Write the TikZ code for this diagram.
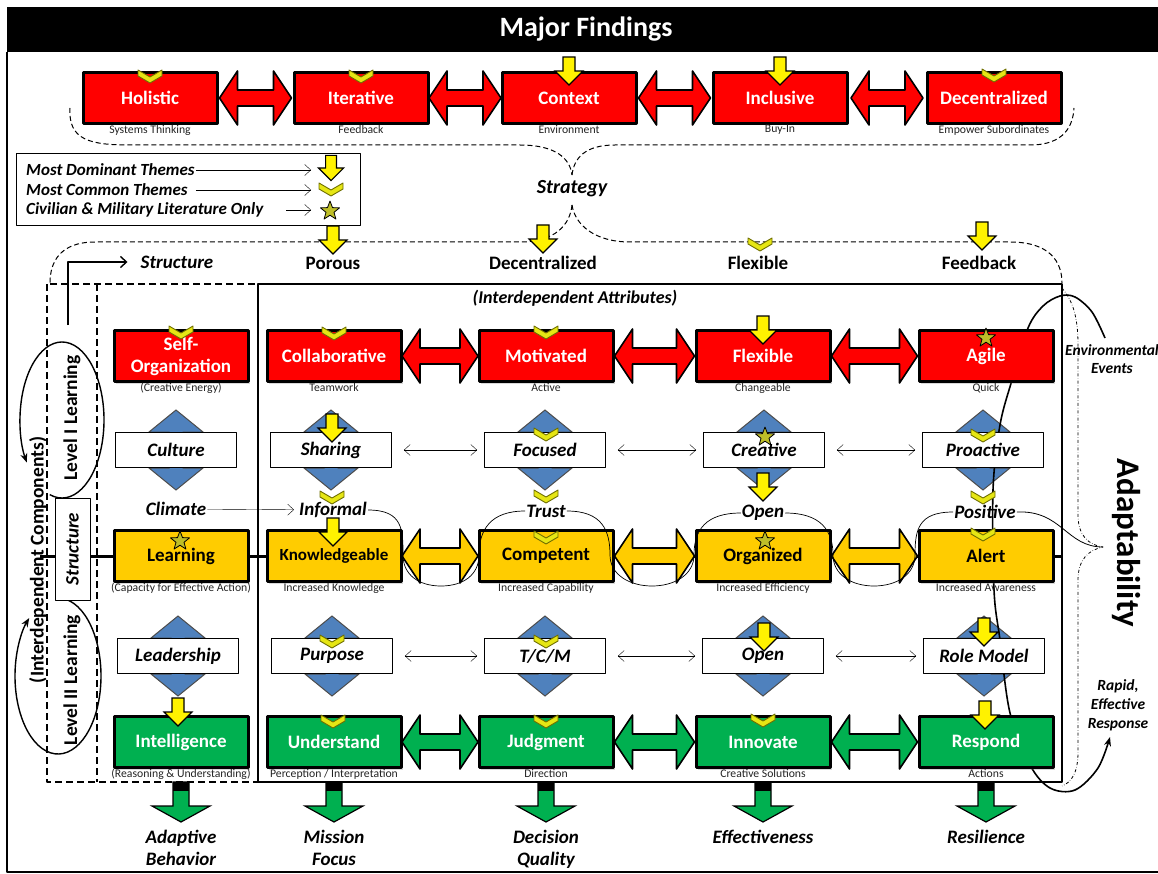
\documentclass[tikz,border=0pt]{standalone}
\usepackage{fontspec}
\setmainfont{Carlito}
\usetikzlibrary{positioning,calc,shadows,backgrounds,arrows.meta}
\definecolor{fRed}{RGB}{255,0,0}
\definecolor{fGold}{RGB}{255,204,0}
\definecolor{fGreen}{RGB}{0,176,80}
\definecolor{fBlue}{RGB}{79,129,189}
\definecolor{chevFill}{RGB}{230,230,20}
\definecolor{chevEdge}{RGB}{110,110,0}
\definecolor{starFill}{RGB}{190,190,40}
\definecolor{subGray}{RGB}{35,35,35}
\tikzset{
  pics/dnarrow/.style={code={\path[draw=black, fill=yellow, line width=1.2pt, line join=miter]
    (-6,-14) -- (6,-14) -- (6,0) -- (14,0) -- (0,14) -- (-14,0) -- (-6,0) -- cycle;}},
  pics/chev/.style={code={\path[draw=chevEdge, fill=chevFill, line width=0.9pt]
    (-12,-6) -- (0,1) -- (12,-6) -- (12,0) -- (0,7) -- (-12,0) -- cycle;}},
  pics/starmk/.style={code={\path[draw=black, fill=starFill, line width=0.8pt]
    (0,-10) -- (2.5,-3.4) -- (9.5,-3.1) -- (4,1.3) -- (5.9,8.1) -- (0,4.2) -- (-5.9,8.1)
    -- (-4,1.3) -- (-9.5,-3.1) -- (-2.5,-3.4) -- cycle;}},
  pics/updn/.style={code={\path[draw=black!70, fill=fBlue, line width=1pt, line join=miter]
    (0,-#1) -- (27,-18) -- (7,-18) -- (7,18) -- (27,18) -- (0,#1) -- (-27,18) -- (-7,18)
    -- (-7,-18) -- (-27,-18) -- cycle;}},
  pics/dbl/.style={code={\path[pic actions]
    (-#1,0) -- (18-#1,-27) -- (18-#1,-8) -- (#1-18,-8) -- (#1-18,-27) -- (#1,0)
    -- (#1-18,27) -- (#1-18,8) -- (18-#1,8) -- (18-#1,27) -- cycle;}},
  pics/outarr/.style={code={\path[draw=black, fill=fGreen, line width=1.2pt, line join=miter]
    (-8,0) -- (8,0) -- (8,24) -- (29,24) -- (0,40) -- (-29,24) -- (-8,24) -- cycle;
    \fill (-8,0) rectangle (8,9);}}
}
% wavy link between the attribute labels
\newcommand\lobecurve[4]{%
  \draw[line width=0.7pt] (#1.east) .. controls +(35,0) and +(0,-25) .. (#3-#4,555)
    .. controls +(0,20) and +(-22,0) .. (#3,586)
    .. controls +(22,0) and +(0,20) .. (#3+#4,555)
    .. controls +(0,-25) and +(-35,0) .. (#2.west);}

\begin{document}
\begin{tikzpicture}[x=1pt, y=-1pt, line join=round, >={Straight Barb[length=6pt,width=11pt]},
  box/.style={draw=black, line width=3pt, minimum width=134pt, minimum height=51pt, inner sep=1pt,
    align=center, font=\fontsize{19}{22}\selectfont\bfseries,
    drop shadow={opacity=0.3, shadow xshift=2pt, shadow yshift=-2pt}},
  redbox/.style={box, fill=fRed, text=white},
  goldbox/.style={box, fill=fGold, text=black},
  greenbox/.style={box, fill=fGreen, text=white},
  wbox/.style={draw=black, fill=white, line width=0.8pt, minimum width=121pt, minimum height=35pt,
    font=\fontsize{19}{22}\selectfont\bfseries\itshape},
  sub/.style={font=\fontsize{11.7}{13}\selectfont, text=subGray, inner sep=0pt},
  lbl/.style={font=\fontsize{19}{22}\selectfont\bfseries\itshape, align=center, inner sep=1pt},
  hdr/.style={font=\fontsize{19}{22}\selectfont\bfseries, inner sep=1pt},
  leg/.style={font=\fontsize{17}{18}\selectfont\bfseries\itshape, inner sep=1pt},
  side/.style={font=\fontsize{19.5}{22}\selectfont\bfseries, rotate=90, inner sep=1pt},
  brace/.style={line width=1pt, dash pattern=on 5pt off 3pt}]
\useasboundingbox (0,0) rectangle (1158,874);
% frame and title
\fill (7,7) rectangle (1158,52);
\draw[line width=1.2pt] (7,52) -- (7,872) -- (1158,872);
\node[text=white, font=\fontsize{28}{30}\selectfont\bfseries] (title) at (586,29) {Major Findings};

% braces round the findings and the structure
\draw[brace] (70,108) .. controls (68,140) and (90,145) .. (130,145) -- (520,145)
  .. controls (555,145) and (570,158) .. (572,175);
\draw[brace] (572,175) .. controls (574,158) and (585,145) .. (615,145) -- (1030,145)
  .. controls (1065,145) and (1073,125) .. (1074,108);
\draw[brace] (572,205) .. controls (570,225) and (555,242) .. (520,242) -- (95,242)
  .. controls (60,242) and (50,262) .. (50,283);
\draw[brace] (572,205) .. controls (575,225) and (595,242) .. (630,242) -- (1010,242)
  .. controls (1050,242) and (1062,262) .. (1062,283);
\draw[dash dot, line width=0.8pt] (1062,288) .. controls (1072,300) and (1078,315) .. (1078,345) -- (1078,515)
  .. controls (1078,535) and (1088,545) .. (1103,547) .. controls (1088,550) and (1078,560) .. (1078,580)
  -- (1078,752) .. controls (1078,772) and (1072,782) .. (1062,786);

% containers
\draw[line width=3pt] (40,556) -- (1062,556);
\draw[line width=2.2pt] (258,284) rectangle (1062,782);
\draw[line width=1.6pt, dash pattern=on 7pt off 4pt] (47,284) rectangle (258,782) (97,284) -- (97,782);
\draw[line width=1.6pt, -{Stealth[length=9pt,width=7pt]}] plot[smooth, tension=0.55] coordinates {(1105,338) (1092,312)
  (1075,297) (1060,296) (1043,306) (1028,328) (1012,380) (1000,425) (993,490) (994,590) (1000,640)
  (1010,713) (1030,765) (1050,788) (1075,790) (1098,768) (1110,737)};

% major findings
\foreach \n/\x/\t/\s in {holi/150/Holistic/Systems Thinking, iter/361/Iterative/Feedback,
    ctx/569/Context/Environment, incl/780/Inclusive/Buy-In, dcz/994/Decentralized/Empower Subordinates}{
  \node[redbox] (\n) at (\x,98) {\t};
  \node[sub, below=0pt of \n] (\n-s) {\s};
}
\foreach \a/\b in {holi/iter, iter/ctx, ctx/incl, incl/dcz}
  \pic[fill=fRed, draw=black, line width=1.6pt] at ($(\a.east)!0.5!(\b.west)$) {dbl=36};

\node[lbl, font=\fontsize{20}{22}\selectfont\bfseries\itshape] (strat) at (572,189) {Strategy};

% legend
\draw[line width=0.8pt] (16,153) rectangle (360,225);
\node[leg, anchor=west] (lg1) at (25,170) {Most Dominant Themes};
\node[leg, anchor=west] (lg2) at (25,190) {Most Common Themes};
\node[leg, anchor=west] (lg3) at (25,210) {Civilian \& Military Literature Only};
\coordinate (lgend) at (311,0);
\draw[->] (lg1.east) -- (lg1.east -| lgend);
\draw[->] ([xshift=7pt]lg2.east) -- (lg2.east -| lgend);
\draw[->] ([xshift=22pt]lg3.east) -- (lg3.east -| lgend);
\pic[scale=0.9] at (331,168) {dnarrow};
\pic at (331,189) {chev};
\pic at (330,211) {starmk};

% structure row
\node[lbl] (strc) at (177,262) {Structure};
\coordinate (lvl) at (68,325);
\draw[->, line width=1.4pt] (lvl) |- ([xshift=-12pt]strc.west);
\foreach \n/\x/\t in {por/333/Porous, hdec/543/Decentralized, hflx/758/Flexible, hfdb/979/Feedback}
  \node[hdr] (\n) at (\x,263) {\t};
\node[lbl, font=\fontsize{18}{20}\selectfont\bfseries\itshape] (attr) at (575,298) {(Interdependent Attributes)};

% left side
\draw[line width=1.4pt, -{Stealth[length=9pt,width=7pt]}] (62,420) ++(107:42 and 78)
  arc[start angle=467, end angle=147, x radius=42, y radius=78];
\draw[line width=1.4pt, -{Stealth[length=9pt,width=7pt]}] (58,676) ++(-80:43 and 78)
  arc[start angle=-80, end angle=228, x radius=43, y radius=78];
\node[side] (lvl1) at (72,418) {Level I Learning};
\node[side] (lvl2) at (72,680) {Level II Learning};
\node[side] (icomp) at (38,560) {(Interdependent Components)};
\node[draw, fill=white, line width=0.8pt, rotate=90, minimum width=102pt, minimum height=35pt,
  font=\fontsize{19}{20}\selectfont\bfseries\itshape] (strbox) at (72.5,549) {Structure};

% attribute rows
\node[redbox] (selforg) at (181,356) {Self-\\Organization};
\node[sub, below=0pt of selforg] (selforg-s) {(Creative Energy)};
\foreach \n/\x/\t/\s in {collab/334/Collaborative/Teamwork, motiv/546/Motivated/Active,
    flex/763/Flexible/Changeable, agile/986/Agile/Quick}{
  \node[redbox] (\n) at (\x,356) {\t};
  \node[sub, below=0pt of \n] (\n-s) {\s};
}
\foreach \n/\x/\t/\s in {learn/181/Learning/(Capacity for Effective Action),
    know/334/{\fontsize{17}{19}\selectfont Knowledgeable}/Increased Knowledge,
    comp/546/Competent/Increased Capability, org/763/Organized/Increased Efficiency,
    alert/986/Alert/Increased Awareness}{
  \node[goldbox] (\n) at (\x,556) {\t};
  \node[sub, below=0pt of \n] (\n-s) {\s};
}
\foreach \n/\x/\t/\s in {intel/181/Intelligence/(Reasoning \& Understanding),
    under/334/Understand/{Perception / Interpretation}, judg/546/Judgment/Direction,
    innov/763/Innovate/Creative Solutions, resp/986/Respond/Actions}{
  \node[greenbox] (\n) at (\x,742) {\t};
  \node[sub, below=0pt of \n] (\n-s) {\s};
}
\foreach \n/\x/\t in {cult/176/Culture, shar/331/Sharing, focu/545/Focused, crea/764/Creative, proa/983/Proactive}
  \node[wbox] (\n) at (\x,450) {\t};
\foreach \n/\x/\t in {lead/178/Leadership, purp/332/Purpose, tcm/545/{T/C/M}, wopen/763/Open, role/984/Role Model}
  \node[wbox] (\n) at (\x,656) {\t};
\begin{scope}[on background layer]
  \foreach \n in {cult, shar, focu, crea, proa, lead, purp, tcm, wopen, role}
    \pic at (\n) {updn=40};
\end{scope}
\foreach \n/\x/\y/\t in {climate/176/509/Climate, informal/333/510/Informal, trust/546/511/Trust,
    lbopen/763/513/Open, positive/985/512/Positive}
  \node[lbl] (\n) at (\x,\y) {\t};

% links between attributes
\foreach \a/\b/\l in {collab/motiv/38, motiv/flex/40, flex/agile/43}
  \pic[fill=fRed, draw=black, line width=1.6pt] at ($(\a.east)!0.5!(\b.west)$) {dbl=\l};
\foreach \a/\b/\l in {know/comp/38, comp/org/40, org/alert/43}
  \pic[fill=fGold, draw=black, line width=1.6pt] at ($(\a.east)!0.5!(\b.west)$) {dbl=\l};
\foreach \a/\b/\l in {under/judg/38, judg/innov/40, innov/resp/43}
  \pic[fill=fGreen, draw=black, line width=1.6pt] at ($(\a.east)!0.5!(\b.west)$) {dbl=\l};
\foreach \a/\b in {shar/focu, focu/crea, crea/proa, purp/tcm, tcm/wopen, wopen/role}
  \draw[<->, shorten <=12pt, shorten >=7pt] (\a) -- (\b);
\draw[->, shorten >=4pt] (climate) -- (informal);

% theme markers
\foreach \x/\y in {150/76, 361/76, 994/75, 760/244, 181/332, 334/333, 546/332, 546/434, 983/435,
    332/497, 546/496, 983/497, 546/537, 983/534, 332/641, 546/641, 333/721, 546/721, 763/720}
  \pic at (\x,\y) {chev};
\foreach \x/\y in {569/71, 780/71, 333/240, 543/239, 982/236, 763/330, 332/428, 763/487, 333/532,
    764/637, 984/632, 178/712, 985/715}
  \pic at (\x,\y) {dnarrow};
\foreach \x/\y in {986/338, 765/437, 180/541, 765/541}
  \pic at (\x,\y) {starmk};

\lobecurve{informal}{trust}{441}{38}
\lobecurve{trust}{lbopen}{652}{42}
\lobecurve{lbopen}{positive}{874}{41}
\draw[line width=0.8pt] (positive.east) .. controls (1062,510) and (1066,547) .. (1103,547);

% outcomes
\foreach \n/\t in {intel/{Adaptive\\Behavior}, under/{Mission\\Focus}, judg/{Decision\\Quality},
    innov/Effectiveness, resp/Resilience}{
  \pic at ([yshift=-13pt]\n.south) {outarr};
  \node[lbl, below=60pt of \n] (\n-o) {\t};
}

% adaptability
\node[font=\fontsize{33}{34}\selectfont\bfseries, rotate=-90] (adapt) at (1126,543) {Adaptability};
\node[lbl, font=\fontsize{15.5}{18}\selectfont\bfseries\itshape] (env) at (1112,359) {Environmental\\Events};
\node[lbl, font=\fontsize{15.5}{19}\selectfont\bfseries\itshape] (rapid) at (1118,705) {Rapid,\\Effective\\Response};
\end{tikzpicture}
\end{document}
